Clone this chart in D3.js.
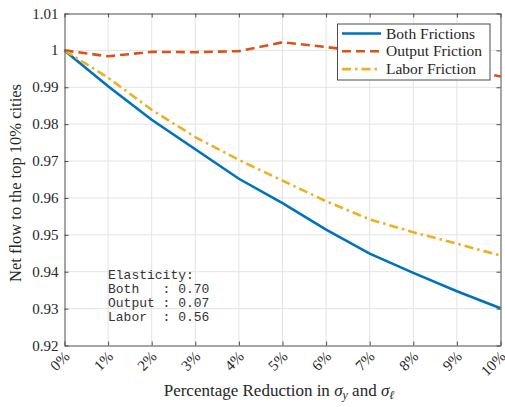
<!DOCTYPE html>
<html lang="en">
<head>
<meta charset="UTF-8">
<script src="https://d3js.org/d3.v7.min.js"></script>
<style>
    body {margin: 0; background: #ffffff}
    svg {display: block}
    .tick-label {font-family: "Liberation Serif", serif; font-size: 15px; fill: #262626}
</style>
</head>
<body>
<svg id="chart"></svg>
<script>
    // values
    const reductions = [0, 1, 2, 3, 4, 5, 6, 7, 8, 9, 10];
    const bothFrictions = [1.0, 0.9903, 0.9812, 0.9732, 0.9652, 0.9586, 0.9514, 0.9449, 0.9397, 0.9347, 0.9301];
    const outputFriction = [1.0, 0.9984, 0.9996, 0.9995, 0.9998, 1.0022, 1.0009, 0.9996, 0.9978, 0.9955, 0.9929];
    const laborFriction = [1.0, 0.9926, 0.9839, 0.9765, 0.9703, 0.9647, 0.9591, 0.9542, 0.9507, 0.9476, 0.9444];
    const yTicks = [0.92, 0.93, 0.94, 0.95, 0.96, 0.97, 0.98, 0.99, 1, 1.01];
    const seriesNames = ['Both Frictions', 'Output Friction', 'Labor Friction'];
    const elasticityLines = ['Elasticity:', 'Both   : 0.70', 'Output : 0.07', 'Labor  : 0.56'];

    const width = 505, height = 407;
    const padL = 64.5, padR = 500.5, padT = 13.5, padB = 345.5;

    const svg = d3.select('#chart').attr('width', width).attr('height', height);

    const x = d3.scaleLinear().domain([0, 10]).range([padL, padR]);
    const y = d3.scaleLinear().domain([0.92, 1.01]).range([padB, padT]);

    // grid
    const grid = svg.append('g');
    grid.selectAll('.gx').data(reductions.slice(1, -1)).enter().append('line')
        .attr('x1', d => x(d)).attr('x2', d => x(d))
        .attr('y1', padT).attr('y2', padB)
        .attr('stroke', '#e3e3e3').attr('stroke-width', 1);
    grid.selectAll('.gy').data(yTicks.slice(1, -1)).enter().append('line')
        .attr('x1', padL).attr('x2', padR)
        .attr('y1', d => y(d)).attr('y2', d => y(d))
        .attr('stroke', '#e3e3e3').attr('stroke-width', 1);

    // series
    const series = [
        {values: bothFrictions, color: '#0072BD', dash: null},
        {values: outputFriction, color: '#D95319', dash: '9,5'},
        {values: laborFriction, color: '#EDB120', dash: '9,4,2.5,4'}
    ];
    const line = d3.line().x((d, i) => x(reductions[i])).y(d => y(d));
    svg.append('g').selectAll('path').data(series).enter().append('path')
        .attr('d', d => line(d.values))
        .attr('fill', 'none')
        .attr('stroke', d => d.color)
        .attr('stroke-width', 2.6)
        .attr('stroke-dasharray', d => d.dash);

    // axes (box with inward ticks)
    const axisColor = '#4d4d4d';
    const xBottom = svg.append('g').attr('transform', `translate(0,${padB})`)
        .call(d3.axisBottom(x).tickValues(reductions).tickSizeInner(-4).tickSizeOuter(0).tickFormat(''));
    const xTop = svg.append('g').attr('transform', `translate(0,${padT})`)
        .call(d3.axisTop(x).tickValues(reductions).tickSizeInner(-4).tickSizeOuter(0).tickFormat(''));
    const yLeft = svg.append('g').attr('transform', `translate(${padL},0)`)
        .call(d3.axisLeft(y).tickValues(yTicks).tickSizeInner(-4).tickSizeOuter(0).tickFormat(''));
    const yRight = svg.append('g').attr('transform', `translate(${padR},0)`)
        .call(d3.axisRight(y).tickValues(yTicks).tickSizeInner(-4).tickSizeOuter(0).tickFormat(''));
    [xBottom, xTop, yLeft, yRight].forEach(g => {
        g.selectAll('path, line').attr('stroke', axisColor).attr('stroke-width', 1);
    });

    // y tick labels
    svg.append('g').selectAll('text').data(yTicks).enter().append('text')
        .attr('class', 'tick-label')
        .attr('x', padL - 6)
        .attr('y', d => y(d) + 5)
        .attr('text-anchor', 'end')
        .text(d => d3.format('~g')(d));

    // x tick labels rotated
    svg.append('g').selectAll('text').data(reductions).enter().append('text')
        .attr('class', 'tick-label')
        .attr('text-anchor', 'end')
        .attr('transform', d => `translate(${x(d) + 6},${padB + 12}) rotate(-45)`)
        .text(d => d + '%');

    // axis titles
    svg.append('text')
        .attr('class', 'tick-label')
        .attr('transform', `translate(21,183) rotate(-90)`)
        .attr('text-anchor', 'middle')
        .style('font-size', '16.5px')
        .text('Net flow to the top 10% cities');

    const xt = svg.append('text')
        .attr('class', 'tick-label')
        .attr('x', 279).attr('y', 396)
        .attr('text-anchor', 'middle')
        .style('font-size', '17px');
    xt.append('tspan').text('Percentage Reduction in ');
    xt.append('tspan').style('font-style', 'italic').text('σ');
    xt.append('tspan').style('font-style', 'italic').style('font-size', '12px').attr('dy', 3).text('y');
    xt.append('tspan').attr('dy', -3).text(' and ');
    xt.append('tspan').style('font-style', 'italic').text('σ');
    xt.append('tspan').style('font-style', 'italic').style('font-size', '12px').attr('dy', 3).text('ℓ');

    // legend
    const legend = svg.append('g');
    legend.append('rect')
        .attr('x', 337.5).attr('y', 24).attr('width', 152.5).attr('height', 56)
        .attr('fill', '#ffffff').attr('stroke', '#4d4d4d').attr('stroke-width', 1);
    const rows = legend.selectAll('g').data(series).enter().append('g')
        .attr('transform', (d, i) => `translate(0,${33.5 + i * 17.8})`);
    rows.append('line')
        .attr('x1', 342).attr('x2', 381)
        .attr('stroke', d => d.color).attr('stroke-width', 2.6)
        .attr('stroke-dasharray', d => d.dash);
    rows.append('text')
        .attr('class', 'tick-label')
        .attr('x', 386).attr('y', 5)
        .style('font-size', '15.5px')
        .text((d, i) => seriesNames[i]);

    // elasticity annotation
    svg.append('g').selectAll('text').data(elasticityLines).enter().append('text')
        .attr('x', 108)
        .attr('y', (d, i) => 278.5 + i * 14.2)
        .style('white-space', 'pre')
        .style('font-family', '"Liberation Mono", monospace')
        .style('font-size', '13px')
        .style('fill', '#333333')
        .text(d => d);
</script>
</body>
</html>
